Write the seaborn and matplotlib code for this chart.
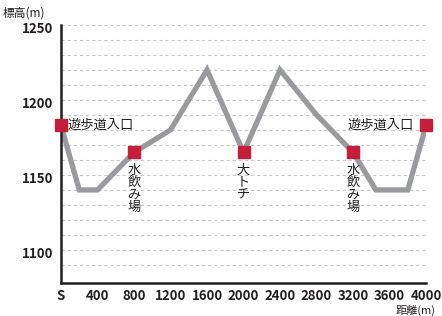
import matplotlib
matplotlib.use("Agg")
import matplotlib.pyplot as plt
import matplotlib.transforms as mtrans
import seaborn as sns
import pandas as pd

distance = [0, 200, 400, 800, 1200, 1600, 2000, 2400, 2800, 3200, 3450, 3800, 4000]
elevation = [1183, 1140, 1140, 1165, 1180, 1220, 1165, 1220, 1190, 1165, 1140, 1140, 1183]

poi_distance = [0, 800, 2000, 3200, 4000]
poi_elevation = [1183, 1165, 1165, 1165, 1183]
poi_labels = ["遊歩道入口", "水飲み場", "大トチ", "水飲み場", "遊歩道入口"]

x_ticks = [0, 400, 800, 1200, 1600, 2000, 2400, 2800, 3200, 3600, 4000]
x_tick_labels = ["S", "400", "800", "1200", "1600", "2000", "2400", "2800", "3200", "3600", "4000"]
y_ticks = [1100, 1150, 1200, 1250]

sns.set_theme(style="white")
plt.rcParams['font.family'] = ['Noto Sans CJK JP', 'DejaVu Sans']

line_df = pd.DataFrame({"distance": distance, "elevation": elevation})
poi_df = pd.DataFrame({"distance": poi_distance, "elevation": poi_elevation})

fig = plt.figure(figsize=(4.42, 3.16), dpi=100)
ax = fig.add_axes([0.138, 0.1044, 0.826, 0.817])

# grid lines every 10 m
for yv in range(1090, 1251, 10):
    ax.axhline(yv, color="#c8c8c8", lw=0.8, ls=(0, (3, 2.5)), zorder=0)

sns.lineplot(data=line_df, x="distance", y="elevation", ax=ax, color="#999a9e",
             lw=3.8, sort=False, zorder=2, solid_joinstyle="miter")
ax.plot(poi_df["distance"], poi_df["elevation"], ls="none", marker="s", ms=9,
        color="#c41e3a", zorder=3, clip_on=False)

ax.set_xlim(0, 4000)
ax.set_ylim(1078, 1250)
ax.set_xticks(x_ticks)
ax.set_xticklabels(x_tick_labels, fontweight="bold", fontsize=9.5)
ax.set_yticks(y_ticks)
ax.set_yticklabels([str(v) for v in y_ticks], fontweight="bold", fontsize=9.5)
ax.set_xlabel("")
ax.set_ylabel("")

for s in ["top", "right"]:
    ax.spines[s].set_visible(False)
for s in ["left", "bottom"]:
    ax.spines[s].set_color("#231f20")
    ax.spines[s].set_linewidth(1.8)
ax.tick_params(axis="x", direction="in", length=6, width=1.5, color="#231f20", pad=4)
ax.tick_params(axis="y", direction="inout", length=7, width=1.5, color="#231f20", pad=2)
ax.tick_params(axis="both", colors="#231f20", labelcolor="#231f20")

# nudge y tick labels slightly downward as in the reference
offset = mtrans.ScaledTranslation(0, -2 / 72, fig.dpi_scale_trans)
for lbl in ax.get_yticklabels():
    lbl.set_transform(lbl.get_transform() + offset)

# labels
ax.text(70, 1183, "遊歩道入口", fontsize=9.5, ha="left", va="center", color="#231f20",
        transform=ax.transData)
ax.annotate("遊歩道入口", (4000, 1183), xytext=(-9, 0), textcoords="offset points",
            fontsize=9.5, ha="right", va="center", color="#231f20")
for xd, yd, lab in zip(poi_distance[1:4], poi_elevation[1:4], poi_labels[1:4]):
    ax.annotate("\n".join(lab), (xd, yd), xytext=(0, -8), textcoords="offset points",
                fontsize=9.5, ha="center", va="top", color="#231f20", linespacing=0.95)

fig.text(0.005, 0.958, "標高(m)", fontsize=8.5, ha="left", va="center", color="#231f20")
fig.text(0.985, 0.0, "距離(m)", fontsize=8, ha="right", va="bottom", color="#231f20")

fig.savefig("out.png", dpi=100)
